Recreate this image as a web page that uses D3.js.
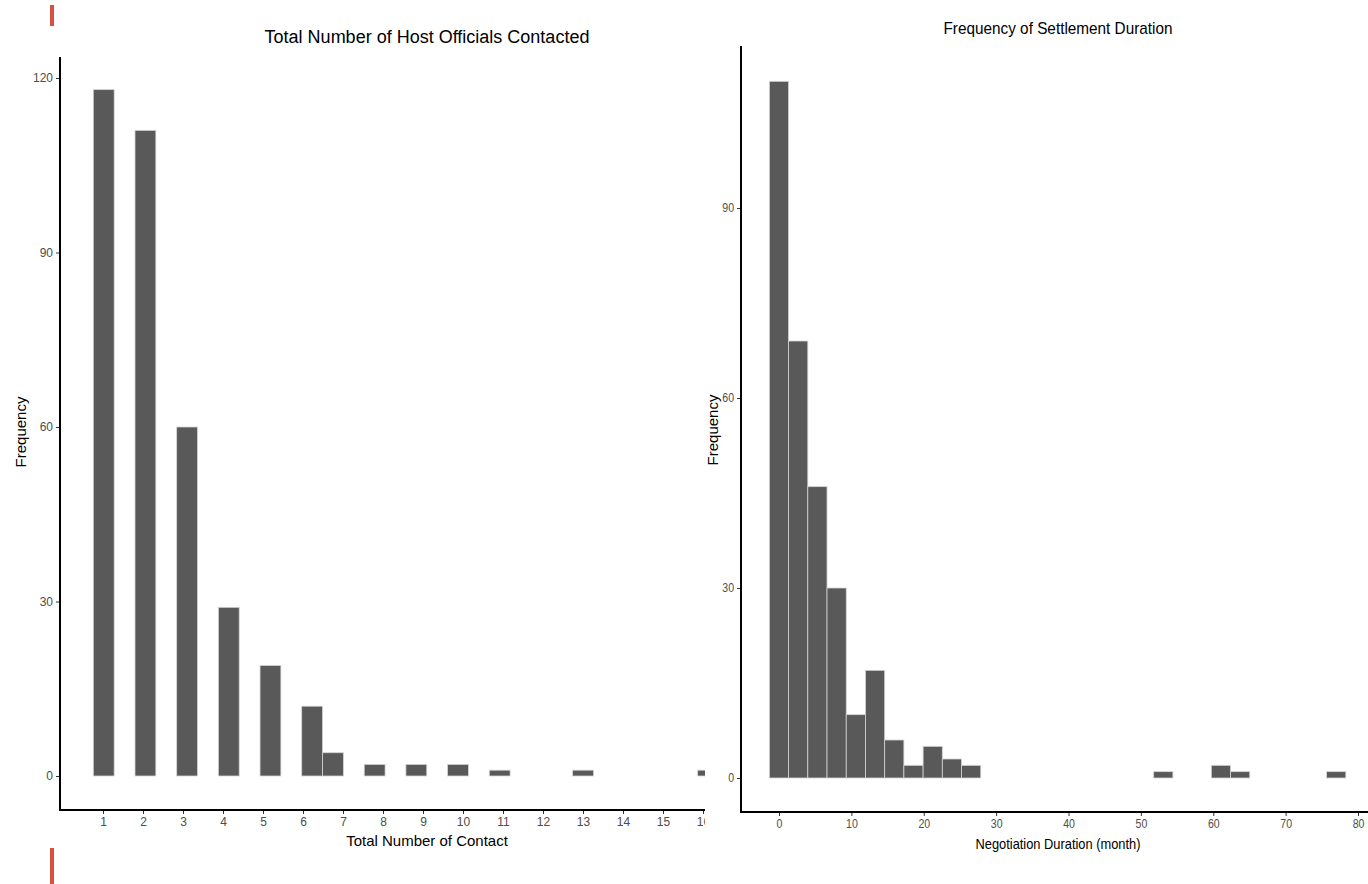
<!DOCTYPE html>
<html>
<head>
<meta charset="utf-8">
<script src="https://cdn.jsdelivr.net/npm/d3@7"></script>
<style>
  body { margin: 0; background: #fff; }
  svg { display: block; }
  .tick text { fill: #4d4d4d; }
  .tick line { stroke: #333; }
</style>
</head>
<body>
<svg id="chart" width="1368" height="884"></svg>
<script>
// Data: left histogram (total number of contacts), 30 bins
const contactCounts = [118, 0, 111, 0, 60, 0, 29, 0, 19, 0, 12, 4, 0, 2, 0, 2, 0, 2, 0, 1, 0, 0, 0, 1, 0, 0, 0, 0, 0, 1];
const contactBinStart = 0.758;
const contactBinWidth = 0.521;
const contactXTicks = d3.range(1, 17);
const contactYTicks = [0, 30, 60, 90, 120];

// Data: right histogram (negotiation duration in months), 30 bins
const durationCounts = [110, 69, 46, 30, 10, 17, 6, 2, 5, 3, 2, 0, 0, 0, 0, 0, 0, 0, 0, 0, 1, 0, 0, 2, 1, 0, 0, 0, 0, 1];
const durationBinStart = -1.33;
const durationBinWidth = 2.655;
const durationXTicks = [0, 10, 20, 30, 40, 50, 60, 70, 80];
const durationYTicks = [0, 30, 60, 90];

const svg = d3.select("#chart");
const barFill = "#595959";
const barStroke = "#d4d4d4";
const sans = "'Liberation Sans', Arial, sans-serif";

// Red marks at the left edge
svg.append("rect").attr("x", 50).attr("y", 5).attr("width", 4).attr("height", 21).attr("fill", "#d9503f");
svg.append("rect").attr("x", 50).attr("y", 848).attr("width", 4).attr("height", 36).attr("fill", "#d9503f");

// Builds one histogram panel
function drawHistogram(opts) {
  const g = svg.append("g");
  if (opts.clip) {
    svg.append("clipPath").attr("id", opts.clip.id)
      .append("rect").attr("x", 0).attr("y", 0).attr("width", opts.clip.width).attr("height", 884);
    g.attr("clip-path", `url(#${opts.clip.id})`);
  }

  const x = d3.scaleLinear().domain(opts.xDomain).range(opts.xRange);
  const y = d3.scaleLinear().domain(opts.yDomain).range(opts.yRange);

  const bins = opts.counts.map((c, i) => ({
    x0: opts.binStart + i * opts.binWidth,
    x1: opts.binStart + (i + 1) * opts.binWidth,
    count: c
  }));

  g.selectAll("rect.bar")
    .data(bins)
    .enter()
    .append("rect")
    .attr("class", "bar")
    .attr("x", d => x(d.x0))
    .attr("width", d => x(d.x1) - x(d.x0))
    .attr("y", d => y(d.count))
    .attr("height", d => y(0) - y(d.count))
    .attr("fill", barFill)
    .attr("stroke", barStroke)
    .attr("stroke-width", 0.8);

  // Axes
  const yAxis = d3.axisLeft(y).tickValues(opts.yTicks).tickSize(4).tickPadding(3);
  const gy = g.append("g").attr("transform", `translate(${opts.panel.left},0)`).call(yAxis);
  gy.select(".domain").remove();
  gy.selectAll("text").style("font-family", sans).style("font-size", "12px")
    .attr("transform", `translate(-7,0) scale(${opts.narrow},1) translate(7,0)`);

  const xAxis = d3.axisBottom(x).tickValues(opts.xTicks).tickSize(4).tickPadding(3);
  const gx = g.append("g").attr("transform", `translate(0,${opts.panel.bottom})`).call(xAxis);
  gx.select(".domain").remove();
  gx.selectAll("text").style("font-family", sans).style("font-size", "12px")
    .attr("transform", `scale(${opts.narrow},1)`);

  g.append("line")
    .attr("x1", opts.panel.left).attr("x2", opts.panel.left)
    .attr("y1", opts.panel.top).attr("y2", opts.panel.bottom + 1)
    .attr("stroke", "#000").attr("stroke-width", 2);
  g.append("line")
    .attr("x1", opts.panel.left - 1).attr("x2", opts.panel.right)
    .attr("y1", opts.panel.bottom).attr("y2", opts.panel.bottom)
    .attr("stroke", "#000").attr("stroke-width", 2);

  // Labels
  const title = g.append("text")
    .attr("x", opts.titleX).attr("y", opts.titleY)
    .attr("text-anchor", "middle")
    .style("font-family", sans).style("font-size", opts.titleSize + "px")
    .text(opts.title);
  if (opts.titleLength) title.attr("textLength", opts.titleLength).attr("lengthAdjust", "spacingAndGlyphs");

  const xLabel = g.append("text")
    .attr("x", opts.titleX).attr("y", opts.xLabelY)
    .attr("text-anchor", "middle")
    .style("font-family", sans).style("font-size", opts.xLabelSize + "px")
    .text(opts.xLabel);
  if (opts.xLabelLength) xLabel.attr("textLength", opts.xLabelLength).attr("lengthAdjust", "spacingAndGlyphs");

  g.append("text")
    .attr("transform", `translate(${opts.yLabelX},${opts.yLabelY}) rotate(-90)`)
    .attr("text-anchor", "middle")
    .style("font-family", sans).style("font-size", "15px")
    .text("Frequency");
}

drawHistogram({
  counts: contactCounts,
  binStart: contactBinStart,
  binWidth: contactBinWidth,
  xDomain: [1, 15], xRange: [103, 663],
  yDomain: [0, 120], yRange: [776, 78],
  xTicks: contactXTicks, yTicks: contactYTicks,
  panel: { left: 60, right: 705, top: 57, bottom: 810 },
  clip: { id: "leftClip", width: 705 },
  narrow: 1,
  title: "Total Number of Host Officials Contacted", titleSize: 18,
  titleX: 427, titleY: 43,
  xLabel: "Total Number of Contact", xLabelSize: 15,
  xLabelY: 846,
  yLabelX: 26, yLabelY: 432
});

drawHistogram({
  counts: durationCounts,
  binStart: durationBinStart,
  binWidth: durationBinWidth,
  xDomain: [0, 80], xRange: [779, 1358],
  yDomain: [0, 90], yRange: [778, 208],
  xTicks: durationXTicks, yTicks: durationYTicks,
  panel: { left: 741, right: 1368, top: 46, bottom: 812 },
  narrow: 0.88,
  title: "Frequency of Settlement Duration", titleSize: 17, titleLength: 229,
  titleX: 1058, titleY: 34,
  xLabel: "Negotiation Duration (month)", xLabelSize: 15, xLabelLength: 165,
  xLabelY: 849,
  yLabelX: 718, yLabelY: 430
});
</script>
</body>
</html>
